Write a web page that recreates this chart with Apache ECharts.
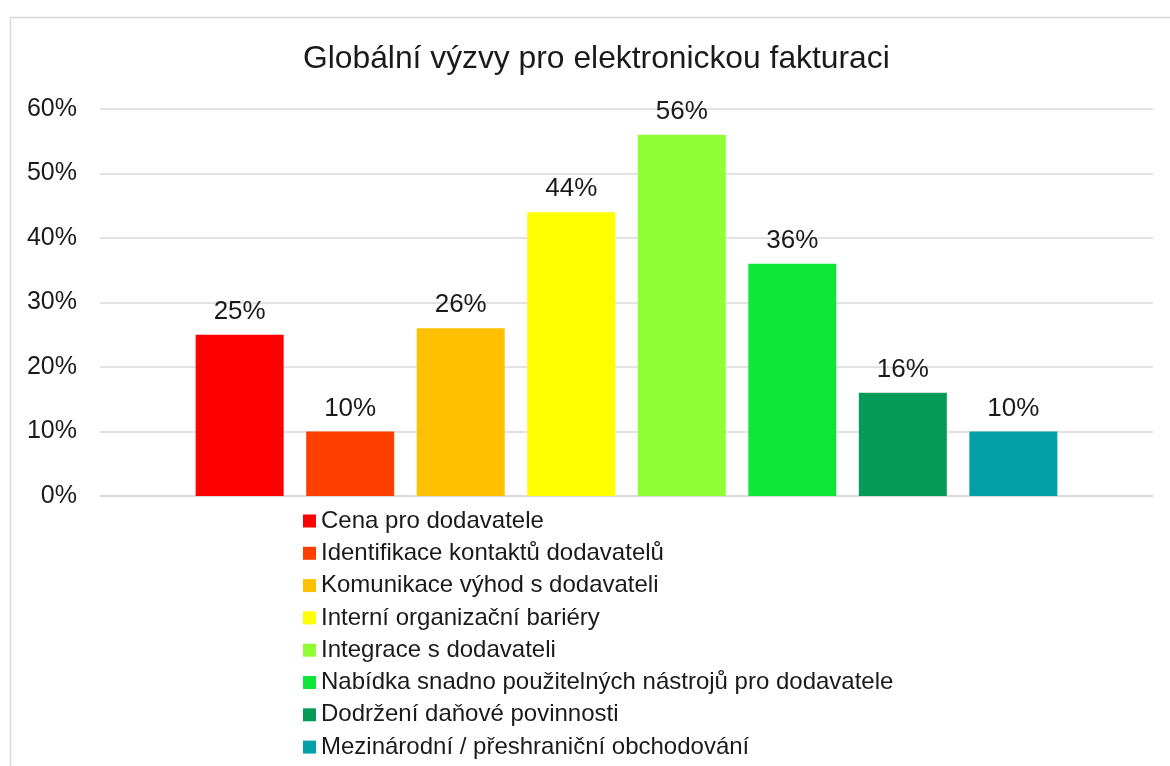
<!DOCTYPE html>
<html>
<head>
	<meta charset="utf-8">
	<script src="https://cdn.jsdelivr.net/npm/echarts@6/dist/echarts.min.js"></script>
	<style>
		body{margin:0;background:#fff;}
	</style>
</head>
<body>
	<div id="main" style="width:1170px;height:766px;"></div>
</body>
<script type="text/javascript">
var names = ['Cena pro dodavatele', 'Identifikace kontaktů dodavatelů', 'Komunikace výhod s dodavateli',
	'Interní organizační bariéry', 'Integrace s dodavateli', 'Nabídka snadno použitelných nástrojů pro dodavatele',
	'Dodržení daňové povinnosti', 'Mezinárodní / přeshraniční obchodování'];
var values = [25, 10, 26, 44, 56, 36, 16, 10];
var colors = ['#ff0000', '#ff3f00', '#ffc000', '#ffff00', '#8fff33', '#10e63a', '#059b56', '#04a0a8'];
var yTicks = [0, 10, 20, 30, 40, 50, 60];

var font = 'Liberation Sans, Arial, sans-serif';
var series = [];
for (var i = 0; i < names.length; i++) {
	series.push({
		name: names[i],
		type: 'bar',
		data: [values[i]],
		barWidth: 88,
		barGap: '25.6%',
		itemStyle: {color: colors[i]},
		label: {
			show: true,
			position: 'top',
			distance: 10,
			formatter: '{c}%',
			fontFamily: font,
			fontSize: 26,
			color: '#1a1a1a'
		},
		animation: false
	});
}

var option = {
	backgroundColor: '#fff',
	title: {
		text: 'Globální výzvy pro elektronickou fakturaci',
		left: 298,
		top: 38,
		textStyle: {fontFamily: font, fontSize: 31.8, fontWeight: 'normal', color: '#1a1a1a'}
	},
	graphic: [{
		type: 'rect',
		left: 8, top: 15,
		shape: {width: 1200, height: 800},
		style: {fill: 'none', stroke: '#d9d9d9', lineWidth: 1.5},
		silent: true
	}],
	legend: {
		orient: 'vertical',
		left: 298,
		top: 504,
		height: 300,
		icon: 'rect',
		itemWidth: 13,
		itemHeight: 13,
		itemGap: 8.3,
		textStyle: {fontFamily: font, fontSize: 24, lineHeight: 24, color: '#1a1a1a'},
		data: names
	},
	grid: {left: 100, right: 17, top: 109, height: 387, containLabel: false},
	xAxis: {
		type: 'category',
		data: [''],
		axisLine: {lineStyle: {color: '#d9d9d9', width: 1.5}},
		axisTick: {show: false},
		axisLabel: {show: false}
	},
	yAxis: {
		type: 'value',
		min: yTicks[0],
		max: yTicks[yTicks.length - 1],
		interval: 10,
		axisLine: {show: false},
		axisTick: {show: false},
		splitLine: {lineStyle: {color: '#d9d9d9', width: 1.5}},
		axisLabel: {
			formatter: '{value}%',
			fontFamily: font,
			fontSize: 25,
			color: '#1a1a1a',
			margin: 23
		}
	},
	series: series
};
var myChart = echarts.init(document.getElementById('main'));
myChart.setOption(option);
</script>
</html>
